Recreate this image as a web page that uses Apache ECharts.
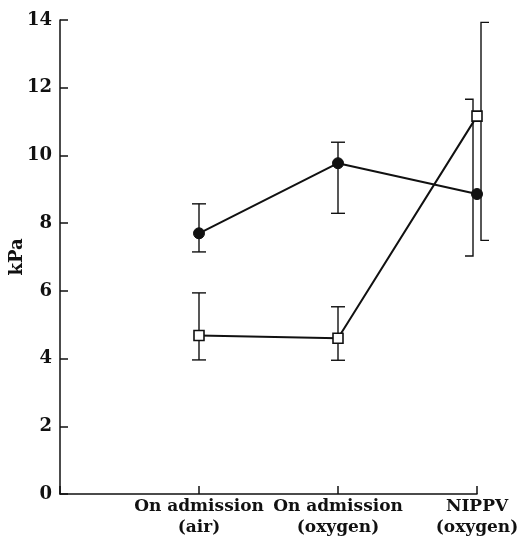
<!DOCTYPE html>
<html><head><meta charset="utf-8">
<script src="https://cdn.jsdelivr.net/npm/echarts@6/dist/echarts.min.js"></script>
<style>html,body{margin:0;padding:0;background:#fff}#c{width:517px;height:546px}</style>
</head><body><div id="c"></div>
<script>
// Data
const categories = ['On admission\n(air)', 'On admission\n(oxygen)', 'NIPPV\n(oxygen)'];
const xPositions = [1, 2, 3];
const circleValues = [7.70, 9.77, 8.86];
const circleLow = [7.15, 8.29, 7.03];
const circleHigh = [8.57, 10.39, 11.66];
const squareValues = [4.68, 4.60, 11.16];
const squareLow = [3.96, 3.95, 7.49];
const squareHigh = [5.94, 5.53, 13.93];
const yTicks = [0, 2, 4, 6, 8, 10, 12, 14];

// style: error-bar type per point ('cap' = symmetric caps, 'left'/'right' = bracket)
const circleBarType = ['cap', 'cap', 'left'];
const squareBarType = ['cap', 'cap', 'right'];

const font = 'DejaVu Serif';
const chart = echarts.init(document.getElementById('c'), null, {renderer: 'canvas'});

function errData(low, high, types) {
  return xPositions.map((x, i) => [x, low[i], high[i], types[i] === 'cap' ? 0 : (types[i] === 'left' ? -1 : 1)]);
}

function renderErr(params, api) {
  const x = api.value(0), lo = api.value(1), hi = api.value(2), side = api.value(3);
  const pLo = api.coord([x, lo]), pHi = api.coord([x, hi]);
  const st = {stroke: '#111', lineWidth: 1.4, fill: null};
  if (side === 0) {
    const cx = pLo[0], w = 7;
    return {type: 'group', children: [
      {type: 'line', shape: {x1: cx, y1: pHi[1], x2: cx, y2: pLo[1]}, style: st},
      {type: 'line', shape: {x1: cx - w, y1: pHi[1], x2: cx + w, y2: pHi[1]}, style: st},
      {type: 'line', shape: {x1: cx - w, y1: pLo[1], x2: cx + w, y2: pLo[1]}, style: st}
    ]};
  }
  const off = 4, w = 8;
  const bx = pLo[0] + side * off;
  return {type: 'polyline', shape: {points: [[bx + side * w, pHi[1]], [bx, pHi[1]], [bx, pLo[1]], [bx + side * w, pLo[1]]]}, style: st};
}

chart.setOption({
  animation: false,
  backgroundColor: '#fff',
  grid: {left: 60, right: 40, top: 20, bottom: 52, containLabel: false, outerBoundsMode: 'none'},
  xAxis: {
    type: 'value', min: 0, max: 3, interval: 1,
    axisLine: {lineStyle: {color: '#111', width: 1.5}},
    axisTick: {inside: true, length: 8, lineStyle: {color: '#111', width: 1.5}},
    splitLine: {show: false},
    axisLabel: {
      formatter: v => { const i = xPositions.indexOf(v); return i >= 0 ? categories[i] : ''; },
      fontFamily: font, fontSize: 17, fontWeight: 'bold', color: '#111', lineHeight: 21, margin: 2,
      hideOverlap: false
    }
  },
  yAxis: {
    type: 'value', min: 0, max: 14, interval: 2,
    name: 'kPa', nameLocation: 'middle', nameGap: 34, nameRotate: 90, nameMoveOverlap: false,
    nameTextStyle: {fontFamily: font, fontSize: 18, fontWeight: 'bold', color: '#111'},
    axisLine: {show: true, lineStyle: {color: '#111', width: 1.5}},
    axisTick: {show: true, inside: true, length: 8, lineStyle: {color: '#111', width: 1.5}},
    splitLine: {show: false},
    axisLabel: {
      formatter: v => yTicks.includes(v) ? String(v) : '',
      fontFamily: font, fontSize: 18, fontWeight: 'bold', color: '#111', margin: 8
    }
  },
  series: [
    {type: 'custom', renderItem: renderErr, data: errData(circleLow, circleHigh, circleBarType), z: 1},
    {type: 'custom', renderItem: renderErr, data: errData(squareLow, squareHigh, squareBarType), z: 1},
    {
      type: 'line', data: xPositions.map((x, i) => [x, circleValues[i]]),
      symbol: 'circle', symbolSize: 11,
      lineStyle: {color: '#111', width: 2},
      itemStyle: {color: '#111', borderColor: '#111'}, z: 3
    },
    {
      type: 'line', data: xPositions.map((x, i) => [x, squareValues[i]]),
      symbol: 'rect', symbolSize: 10,
      lineStyle: {color: '#111', width: 2},
      itemStyle: {color: '#fff', borderColor: '#111', borderWidth: 1.6}, z: 4
    }
  ]
});
</script></body></html>
